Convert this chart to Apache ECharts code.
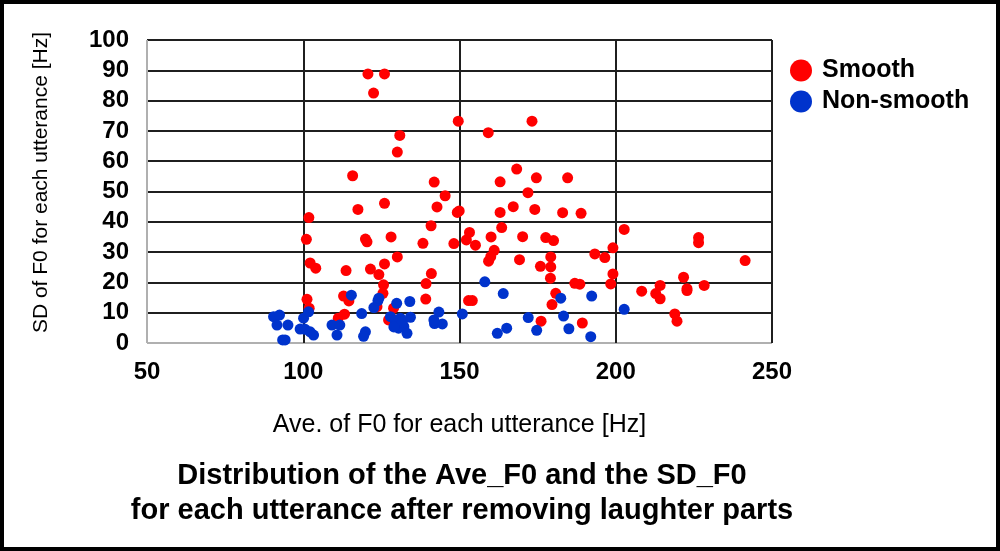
<!DOCTYPE html>
<html>
<head>
<meta charset="utf-8">
<script src="https://cdn.jsdelivr.net/npm/echarts@6/dist/echarts.min.js"></script>
<style>
html,body{margin:0;padding:0;background:#fff;}
#chart{width:1000px;height:551px;}
</style>
</head>
<body>
<div id="chart"></div>
<script>
// Smooth (red): [Ave_F0, SD_F0]
const smoothPoints = [
  [120.7,88.8],[126.0,88.8],[122.5,82.5],[149.6,73.2],[173.2,73.2],[130.9,68.5],[159.2,69.4],
  [130.1,63.0],[115.8,55.2],[168.3,57.4],[184.6,54.5],[174.6,54.5],[141.9,53.1],[163.0,53.2],
  [145.4,48.6],[171.9,49.6],[117.5,44.1],[126.0,46.1],[142.8,44.9],[149.3,43.1],[149.9,43.6],
  [163.0,43.1],[167.2,45.0],[174.1,44.1],[183.0,43.0],[188.9,42.8],[101.8,41.4],[140.9,38.7],
  [163.5,38.1],[153.2,36.5],[152.2,34.0],[155.1,32.3],[148.2,32.8],[160.1,35.0],[170.2,35.1],
  [177.6,34.8],[180.1,33.8],[101.0,34.2],[119.9,34.3],[120.4,33.4],[128.1,35.0],[138.3,32.9],
  [202.7,37.5],[199.1,31.4],[193.3,29.4],[196.5,28.2],[226.5,34.8],[226.5,33.1],[241.4,27.2],
  [102.2,26.4],[104.0,24.7],[113.7,23.9],[121.5,24.4],[126.0,26.1],[130.1,28.4],[124.2,22.6],
  [141.0,22.9],[139.3,19.6],[125.7,19.2],[125.5,16.4],[161.1,30.6],[160.0,28.5],[159.3,27.0],
  [169.2,27.5],[175.9,25.3],[179.2,28.4],[179.2,25.1],[179.1,21.4],[180.8,16.4],[179.6,12.7],
  [176.1,7.2],[152.9,14.0],[154.1,14.0],[139.2,14.5],[112.9,15.5],[114.6,13.9],[113.2,9.5],
  [111.2,8.2],[101.2,14.4],[101.9,11.5],[123.6,12.0],[128.9,11.5],[129.5,7.6],[127.3,7.6],
  [186.9,19.7],[188.5,19.4],[199.1,22.8],[198.4,19.5],[189.3,6.6],[208.3,17.1],[212.8,16.3],
  [214.2,14.6],[214.2,19.0],[221.7,21.7],[222.8,17.9],[222.8,17.3],[228.3,19.0],[218.9,9.6],
  [219.6,7.2]
];
// Non-smooth (blue): [Ave_F0, SD_F0]
const nonSmoothPoints = [
  [90.5,8.7],[92.4,9.2],[91.6,5.9],[95.1,5.9],[93.4,1.0],[94.2,1.0],[99.0,4.6],[100.1,8.2],
  [101.7,10.3],[100.6,4.5],[102.2,3.7],[103.3,2.6],[109.2,5.9],[111.7,5.9],[110.8,2.6],
  [115.4,15.8],[118.7,9.7],[119.9,3.7],[119.3,2.2],[122.6,11.7],[123.9,14.0],[124.2,14.8],
  [129.9,13.1],[134.1,13.7],[127.9,8.7],[129.5,6.5],[131.1,8.2],[132.2,5.4],[133.2,3.2],
  [134.3,8.5],[130.5,4.9],[129.5,7.3],[131.7,6.9],[129.0,5.3],[142.0,6.4],[144.5,6.3],
  [143.4,10.2],[141.8,7.6],[150.9,9.6],[158.1,20.2],[164.0,16.3],[162.1,3.2],[165.1,4.9],
  [172.0,8.4],[174.7,4.2],[182.4,14.8],[183.3,8.9],[185.0,4.7],[192.3,15.5],[192.0,2.1],
  [202.7,11.1]
];
const seriesNames = ['Smooth','Non-smooth'];
const xAxisName = 'Ave. of F0 for each utterance [Hz]';
const yAxisName = 'SD of F0 for each utterance [Hz]';
const titleLines = ['Distribution of the Ave_F0 and the SD_F0','for each utterance after removing laughter parts'];

const chart = echarts.init(document.getElementById('chart'), null, {renderer:'canvas'});
const gridDark = '#1f1f1f', axisGray = '#b0b0b0';
const ySplitColors = [axisGray].concat(new Array(10).fill(gridDark));
const xSplitColors = [axisGray, gridDark, gridDark, gridDark, gridDark];
const FONT = 'Liberation Sans, Arial, sans-serif';

chart.setOption({
  animation:false,
  backgroundColor:'#fff',
  title:{
    text: titleLines.join('\n'),
    left: 457, top: 453, textAlign:'center',
    textStyle:{fontFamily:FONT, fontSize:29, fontWeight:'bold', color:'#000', lineHeight:35}
  },
  legend:{
    orient:'vertical', left:785, top:53, itemGap:6, itemWidth:22, itemHeight:22,
    icon:'circle',
    textStyle:{fontFamily:FONT, fontSize:25, fontWeight:'bold', color:'#000', padding:[0,0,0,5]},
    data: seriesNames
  },
  grid:{left:147, right:228, top:40, bottom:208, containLabel:false},
  xAxis:{
    type:'value', min:50, max:250, interval:50,
    name:xAxisName, nameLocation:'middle', nameGap:70,
    nameTextStyle:{fontFamily:FONT, fontSize:25, color:'#000', verticalAlign:'top'},
    axisLine:{show:false}, axisTick:{show:false},
    axisLabel:{fontFamily:FONT, fontSize:24, fontWeight:'bold', color:'#000', margin:17},
    splitLine:{show:true, lineStyle:{color:xSplitColors, width:2}}
  },
  yAxis:{
    type:'value', min:0, max:100, interval:10,
    name:yAxisName, nameLocation:'middle', nameGap:95,
    nameTextStyle:{fontFamily:FONT, fontSize:21, color:'#000', padding:[0,0,0,18]},
    axisLine:{show:false}, axisTick:{show:false},
    axisLabel:{fontFamily:FONT, fontSize:24, fontWeight:'bold', color:'#000', margin:18},
    splitLine:{show:true, lineStyle:{color:ySplitColors, width:2}}
  },
  graphic:[{
    type:'rect', shape:{x:2, y:2, width:996, height:547},
    style:{fill:'none', stroke:'#000', lineWidth:4}, silent:true
  }],
  series:[
    {name:seriesNames[0], type:'scatter', data:smoothPoints, symbolSize:11,
     itemStyle:{color:'#FF0000', opacity:1}, z:2},
    {name:seriesNames[1], type:'scatter', data:nonSmoothPoints, symbolSize:11,
     itemStyle:{color:'#0033CC', opacity:1}, z:3}
  ]
});
</script>
</body>
</html>
